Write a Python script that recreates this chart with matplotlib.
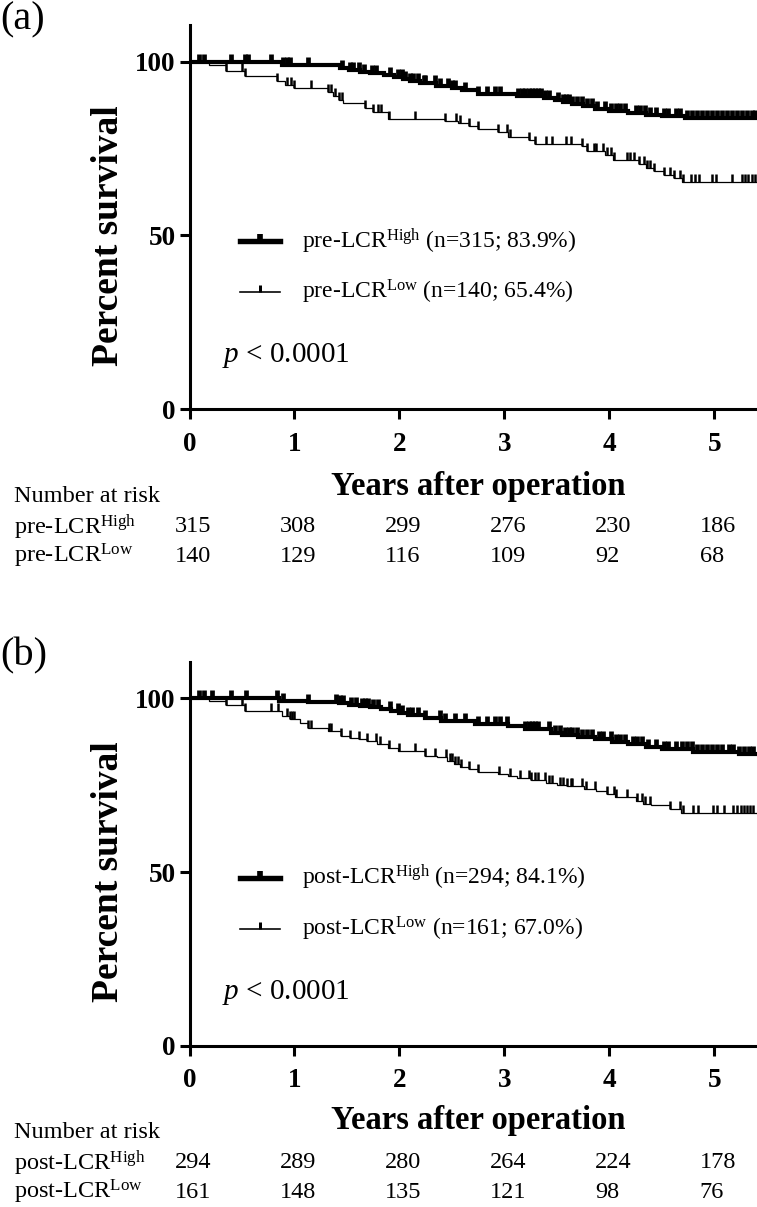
import numpy as np
import matplotlib
matplotlib.use("Agg")
import matplotlib.pyplot as plt
from matplotlib.path import Path
from matplotlib import transforms

plt.rcParams['font.family'] = ['Liberation Serif', 'DejaVu Serif']
plt.rcParams['mathtext.fontset'] = 'custom'
plt.rcParams['mathtext.rm'] = 'Liberation Serif'
plt.rcParams['mathtext.it'] = 'Liberation Serif:italic'
plt.rcParams['mathtext.bf'] = 'Liberation Serif:bold'

# ---------------- data ----------------
year_ticks = [0, 1, 2, 3, 4, 5]
y_ticks = [0, 50, 100]

# panel (a): pre-LCR
a_high_t = [0, 0.88, 1.43, 1.52, 1.62, 1.72, 1.85, 1.95, 2.03, 2.1, 2.2, 2.35, 2.5, 2.6,
            2.75, 3.12, 3.38, 3.48, 3.56, 3.64, 3.75, 3.86, 4.0, 4.18, 4.35, 4.5, 4.72]
a_high_s = [100, 99.0, 98.1, 97.6, 97.1, 96.7, 96.2, 95.6, 95.0, 94.4, 93.8, 92.9, 92.3, 91.7,
            90.8, 90.0, 89.4, 88.9, 88.4, 87.8, 87.1, 86.4, 85.8, 85.2, 84.7, 84.4, 83.9]
a_high_cens = [0.09, 0.14, 0.40, 0.53, 0.56, 0.78, 0.89, 0.93, 0.96, 1.13, 1.45, 1.53, 1.56,
               1.61, 1.66, 1.74, 1.78, 1.91, 1.99, 2.02, 2.05, 2.10, 2.13, 2.18, 2.23, 2.24,
               2.34, 2.39, 2.46, 2.50, 2.53, 2.62, 2.75, 2.83, 2.91, 2.96, 3.13, 3.17, 3.20,
               3.23, 3.26, 3.29, 3.32, 3.35, 3.39, 3.42, 3.51, 3.56, 3.59, 3.61, 3.64, 3.69,
               3.74, 3.79, 3.83, 3.88, 3.96, 4.01, 4.06, 4.10, 4.15, 4.25, 4.29, 4.34, 4.39,
               4.44, 4.52, 4.56, 4.63, 4.67, 4.74, 4.79, 4.83, 4.88, 4.93, 4.98, 5.02, 5.07,
               5.12, 5.17, 5.21, 5.26, 5.31, 5.36, 5.39]
a_low_t = [0, 0.19, 0.35, 0.53, 0.83, 0.91, 1.0, 1.32, 1.37, 1.42, 1.46, 1.67, 1.75, 1.89,
           2.43, 2.56, 2.66, 2.75, 2.94, 3.03, 3.23, 3.29, 3.74, 3.79, 3.96, 4.03, 4.28, 4.35,
           4.42, 4.52, 4.61, 4.69]
a_low_s = [100, 98.9, 97.3, 95.7, 94.3, 93.3, 92.3, 91.2, 90.1, 89.0, 88.0, 86.6, 85.4, 83.5,
           83.0, 82.3, 81.6, 80.6, 79.7, 78.4, 77.5, 76.2, 75.6, 74.3, 73.0, 71.7, 70.6, 69.5,
           68.4, 67.4, 66.5, 65.4]
a_low_cens = [0.35, 0.50, 0.53, 0.83, 0.93, 0.97, 1.0, 1.16, 1.32, 1.35, 1.39, 1.42, 1.45,
              1.67, 1.75, 1.80, 1.82, 1.90, 2.15, 2.43, 2.54, 2.58, 2.66, 2.75, 2.94, 3.02,
              3.05, 3.23, 3.29, 3.40, 3.45, 3.59, 3.63, 3.74, 3.79, 3.85, 3.87, 3.94, 3.98,
              4.01, 4.04, 4.17, 4.20, 4.23, 4.28, 4.33, 4.36, 4.39, 4.42, 4.52, 4.58, 4.61,
              4.67, 4.70, 4.78, 4.81, 4.85, 4.98, 5.01, 5.17, 5.26, 5.29, 5.32, 5.36, 5.39]

# panel (b): post-LCR
b_high_t = [0, 0.85, 1.13, 1.42, 1.52, 1.62, 1.72, 1.82, 1.92, 2.0, 2.08, 2.24, 2.4, 2.72,
            3.03, 3.2, 3.44, 3.55, 3.7, 3.86, 4.02, 4.18, 4.35, 4.5, 4.8, 5.23]
b_high_s = [100, 99.4, 99.0, 98.6, 98.2, 97.8, 97.4, 97.0, 96.5, 95.9, 95.2, 94.4, 93.5, 92.5,
            92.0, 91.1, 90.1, 89.6, 88.9, 88.2, 87.5, 86.8, 86.0, 85.3, 84.7, 84.1]
b_high_cens = [0.09, 0.14, 0.21, 0.40, 0.54, 0.83, 0.89, 1.13, 1.40, 1.43, 1.46, 1.54, 1.59,
               1.64, 1.67, 1.70, 1.75, 1.80, 1.91, 1.99, 2.02, 2.08, 2.12, 2.18, 2.24, 2.39,
               2.43, 2.53, 2.62, 2.75, 2.83, 2.91, 2.96, 3.02, 3.20, 3.23, 3.26, 3.29, 3.32,
               3.42, 3.48, 3.53, 3.58, 3.61, 3.64, 3.69, 3.74, 3.79, 3.83, 3.90, 3.94, 4.01,
               4.06, 4.10, 4.15, 4.22, 4.26, 4.31, 4.37, 4.44, 4.52, 4.56, 4.63, 4.69, 4.74,
               4.79, 4.83, 4.88, 4.93, 4.98, 5.02, 5.07, 5.14, 5.18, 5.23, 5.28, 5.33, 5.37]
b_low_t = [0, 0.19, 0.35, 0.53, 0.88, 0.96, 1.05, 1.13, 1.32, 1.44, 1.53, 1.61, 1.69, 1.79,
           1.89, 1.99, 2.24, 2.36, 2.45, 2.52, 2.58, 2.66, 2.75, 2.94, 3.03, 3.12, 3.25, 3.4,
           3.5, 3.6, 3.76, 3.87, 3.98, 4.05, 4.25, 4.32, 4.4, 4.58, 4.68]
b_low_s = [100, 99.2, 98.1, 96.5, 94.9, 94.0, 93.0, 91.6, 90.6, 89.2, 88.7, 88.2, 87.7, 86.8,
           85.8, 84.9, 83.4, 83.1, 82.0, 81.0, 80.2, 79.6, 78.9, 78.1, 77.7, 77.2, 76.4, 75.7,
           75.2, 74.8, 73.8, 73.3, 72.4, 71.6, 70.4, 69.7, 69.2, 68.2, 67.0]
b_low_cens = [0.35, 0.50, 0.53, 0.78, 0.84, 0.93, 0.96, 0.98, 1.0, 1.13, 1.16, 1.33, 1.35,
              1.44, 1.53, 1.61, 1.69, 1.78, 1.81, 1.90, 2.0, 2.15, 2.24, 2.34, 2.44, 2.48,
              2.50, 2.53, 2.56, 2.59, 2.66, 2.75, 2.95, 3.05, 3.15, 3.23, 3.25, 3.29, 3.32,
              3.39, 3.42, 3.45, 3.53, 3.56, 3.60, 3.63, 3.64, 3.74, 3.78, 3.86, 3.98, 4.04,
              4.06, 4.17, 4.26, 4.31, 4.34, 4.39, 4.58, 4.67, 4.70, 4.80, 4.84, 4.99, 5.02,
              5.09, 5.18, 5.21, 5.25, 5.28, 5.31, 5.34, 5.37]

a_labels = ['pre-LCR$^{\\mathrm{High}}$', 'pre-LCR$^{\\mathrm{Low}}$']
b_labels = ['post-LCR$^{\\mathrm{High}}$', 'post-LCR$^{\\mathrm{Low}}$']
a_legend = ['(n=315; 83.9%)', '(n=140; 65.4%)']
b_legend = ['(n=294; 84.1%)', '(n=161; 67.0%)']
a_risk_high = [315, 308, 299, 276, 230, 186]
a_risk_low = [140, 129, 116, 109, 92, 68]
b_risk_high = [294, 289, 280, 264, 224, 178]
b_risk_low = [161, 148, 135, 121, 98, 76]

# ---------------- layout helpers ----------------
W, H = 757, 1207
X_END = 5.45

def fx(px):
    return px / W

def fy(py):
    return 1 - py / H

# censor tick sitting on top of the line
TICK_UP = Path([(0, 0), (0, 1)])

def surv_at(t_ev, s_ev, t):
    idx = np.searchsorted(t_ev, t, side='right') - 1
    return np.asarray(s_ev)[idx]

STYLE_HIGH = dict(lw=3.0, mew=3.4, ms=11)
STYLE_LOW = dict(lw=0.9, mew=1.8, ms=11)

def draw_curve(ax, t_ev, s_ev, cens, st):
    tt = list(t_ev) + [X_END]
    ss = list(s_ev) + [s_ev[-1]]
    ax.step(tt, ss, where='post', color='black', lw=st['lw'], solid_joinstyle='miter')
    cy = surv_at(t_ev, s_ev, np.asarray(cens))
    ax.plot(cens, cy, ls='none', marker=TICK_UP, color='black',
            mew=st['mew'], ms=st['ms'])

def draw_panel(ax, tag_px, top_px, bot_px, tag, curves, labels, legend_txt, risk,
               xlab_px, risk_rows_px):
    ax.set_xlim(0, 5.405)
    ax.set_ylim(0, 110.5)
    for sp in ['top', 'right']:
        ax.spines[sp].set_visible(False)
    for sp in ['left', 'bottom']:
        ax.spines[sp].set_linewidth(2.2)
    ax.set_xticks(year_ticks)
    ax.set_yticks(y_ticks)
    ax.tick_params(axis='both', width=2.2, length=7, labelsize=19.5)
    ax.tick_params(axis='x', pad=9)
    ax.tick_params(axis='y', pad=3)
    for lab in ax.get_xticklabels() + ax.get_yticklabels():
        lab.set_fontweight('bold')

    for (t_ev, s_ev, cens), st in zip(curves, [STYLE_HIGH, STYLE_LOW]):
        draw_curve(ax, t_ev, s_ev, cens, st)

    # legend drawn by hand
    for row_y, st, lab, txt in zip([0.438, 0.305], [STYLE_HIGH, STYLE_LOW], labels, legend_txt):
        ax.plot([0.089, 0.159], [row_y, row_y], transform=ax.transAxes, color='black',
                lw=st['lw'] * 1.3, clip_on=False)
        ax.plot([0.124], [row_y], transform=ax.transAxes, ls='none', marker=TICK_UP,
                color='black', mew=st['mew'] * 1.2, ms=st['ms'] * 0.9, clip_on=False)
        ax.text(0.198, row_y, lab + ' ' + txt, transform=ax.transAxes, fontsize=17,
                va='center', ha='left')
    ax.text(0.057, 0.139, '$p$ < 0.0001', transform=ax.transAxes, fontsize=21,
            va='center', ha='left')

    fig.text(fx(0), fy(tag_px), tag, fontsize=29, ha='left', va='center')
    fig.text(fx(108), fy((top_px + bot_px) / 2), 'Percent survival', rotation=90,
             fontsize=27, fontweight='bold', ha='center', va='center')
    fig.text(fx(478), fy(xlab_px), 'Years after operation', fontsize=23.5,
             fontweight='bold', ha='center', va='center')

    # number at risk table
    tr = transforms.blended_transform_factory(ax.transData, fig.transFigure)
    y0, y1, y2 = risk_rows_px
    fig.text(fx(14), fy(y0), 'Number at risk', fontsize=17.5, ha='left', va='center')
    for yy, lab, vals in zip([y1, y2], labels, risk):
        fig.text(fx(14), fy(yy), lab, fontsize=17.5, ha='left', va='center')
        for xv, v in zip(year_ticks, vals):
            ax.text(xv - 0.14, fy(yy), str(v), transform=tr, fontsize=17.5,
                    ha='left', va='center')


fig = plt.figure(figsize=(W / 100, H / 100), dpi=100)

ax_a = fig.add_axes([fx(189.5), fy(409.3), fx(757) - fx(189.5), (409.3 - 25) / H])
draw_panel(ax_a, 20, 62, 409.3, '(a)',
           [(a_high_t, a_high_s, a_high_cens), (a_low_t, a_low_s, a_low_cens)],
           a_labels, a_legend, [a_risk_high, a_risk_low], 486, (497, 527, 556))

ax_b = fig.add_axes([fx(189.5), fy(1045.6), fx(757) - fx(189.5), (1045.6 - 662) / H])
draw_panel(ax_b, 656, 698, 1045.6, '(b)',
           [(b_high_t, b_high_s, b_high_cens), (b_low_t, b_low_s, b_low_cens)],
           b_labels, b_legend, [b_risk_high, b_risk_low], 1121, (1133, 1163, 1192))

fig.savefig('out.png', dpi=100, facecolor='white')
